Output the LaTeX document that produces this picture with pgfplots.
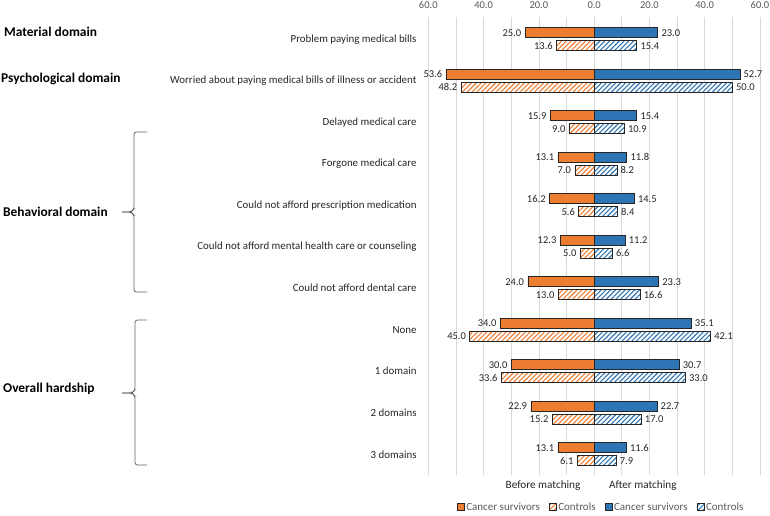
\documentclass[border=0pt]{standalone}
\usepackage{pgfplots}
\pgfplotsset{compat=1.18}
\usepackage{fontspec}
\setmainfont{Carlito}
\usetikzlibrary{patterns.meta}
\definecolor{cOr}{HTML}{ED7D31}
\definecolor{cBl}{HTML}{2E75B6}
\definecolor{cGrid}{HTML}{D9D9D9}
\definecolor{cTxt}{HTML}{262626}
\definecolor{cLeg}{HTML}{595959}
\begin{document}
\begin{tikzpicture}
\path[use as bounding box] (0,0) rectangle (770bp,-516bp);
\begin{axis}[
  at={(428.3bp,-17bp)}, anchor=north west,
  scale only axis, width=331.7bp, height=458bp,
  xmin=-60, xmax=60, ymin=-0.535, ymax=10.5,
  y dir=reverse, clip=false,
  axis line style={draw=none},
  xtick={-60,-40,...,60},
  xticklabels={60.0,40.0,20.0,0.0,20.0,40.0,60.0},
  minor xtick={-50,-30,-10,10,30,50},
  xmajorgrids, xminorgrids,
  major grid style={draw=cGrid, line width=0.6bp},
  minor grid style={draw=cGrid, line width=0.6bp},
  xticklabel pos=upper,
  tick style={draw=none},
  xticklabel style={font=\fontsize{10.5bp}{12bp}\selectfont, text=cLeg, yshift=4.5bp},
  /pgf/number format/assume math mode=true,
  ytick={0,...,10},
  yticklabels={Problem paying medical bills,
    Worried about paying medical bills of illness or accident,
    Delayed medical care, Forgone medical care,
    Could not afford prescription medication,
    Could not afford mental health care or counseling,
    Could not afford dental care, None, 1 domain, 2 domains, 3 domains},
  yticklabel style={font=\fontsize{10.9bp}{12bp}\selectfont, text=cTxt, xshift=-4bp},
  xbar, bar width=10bp,
  point meta={abs(x)},
  nodes near coords={\pgfmathprintnumber[fixed,fixed zerofill,precision=1]{\pgfplotspointmeta}},
  every node near coord/.append style={font=\fontsize{10.5bp}{12bp}\selectfont, text=cTxt, inner sep=3.5bp},
  legend columns=4,
  legend style={at={(0.521,-0.07)}, anchor=center, draw=none, fill=none,
    font=\fontsize{11bp}{12bp}\selectfont, text=cLeg,
    /tikz/every even column/.append style={column sep=7bp}},
  legend image code/.code={\draw[#1, line width=0.5bp] (0bp,-3.5bp) rectangle (7bp,3.5bp);},
]
% Before matching - cancer survivors
\addplot[fill=cOr, draw=black!85, line width=0.6bp, bar shift=6.5bp,
  every node near coord/.append style={anchor=east}] coordinates {
 (-25.0,0) (-53.6,1) (-15.9,2) (-13.1,3) (-16.2,4) (-12.3,5) (-24.0,6) (-34.0,7) (-30.0,8) (-22.9,9) (-13.1,10)};
% Before matching - controls
\addplot[fill=white, draw=black!85, line width=0.6bp, bar shift=-6.5bp,
  postaction={pattern={Lines[angle=45,distance=3.4bp,line width=1.1bp]}, pattern color=cOr},
  every node near coord/.append style={anchor=east}] coordinates {
 (-13.6,0) (-48.2,1) (-9.0,2) (-7.0,3) (-5.6,4) (-5.0,5) (-13.0,6) (-45.0,7) (-33.6,8) (-15.2,9) (-6.1,10)};
% After matching - cancer survivors
\addplot[fill=cBl, draw=black!85, line width=0.6bp, bar shift=6.5bp,
  every node near coord/.append style={anchor=west}] coordinates {
 (23.0,0) (52.7,1) (15.4,2) (11.8,3) (14.5,4) (11.2,5) (23.3,6) (35.1,7) (30.7,8) (22.7,9) (11.6,10)};
% After matching - controls
\addplot[fill=white, draw=black!85, line width=0.6bp, bar shift=-6.5bp,
  postaction={pattern={Lines[angle=45,distance=3.4bp,line width=1.1bp]}, pattern color=cBl},
  every node near coord/.append style={anchor=west}] coordinates {
 (15.4,0) (50.0,1) (10.9,2) (8.2,3) (8.4,4) (6.6,5) (16.6,6) (42.1,7) (33.0,8) (17.0,9) (7.9,10)};
\legend{Cancer survivors, Controls, Cancer survivors, Controls}
\node[font=\fontsize{11.2bp}{13bp}\selectfont, text=cTxt] at (axis cs:-18.5,10.76) {Before matching};
\node[font=\fontsize{11.2bp}{13bp}\selectfont, text=cTxt] at (axis cs:17.6,10.76) {After matching};
\end{axis}
% domain labels
\begin{scope}[font=\bfseries\fontsize{13.4bp}{15bp}\selectfont, text=black]
\node[anchor=west, inner sep=0] at (4bp,-32bp) {Material domain};
\node[anchor=west, inner sep=0] at (1bp,-79bp) {Psychological domain};
\node[anchor=west, inner sep=0] at (3bp,-212bp) {Behavioral domain};
\node[anchor=west, inner sep=0] at (3bp,-389bp) {Overall hardship};
\end{scope}
% braces
\draw[black!60, line width=0.8bp, rounded corners=2.5bp]
  (147bp,-132bp) -- (134bp,-132bp) -- (134bp,-209bp) -- (131bp,-212bp) -- (122bp,-212bp);
\draw[black!60, line width=0.8bp, rounded corners=2.5bp]
  (147bp,-292bp) -- (134bp,-292bp) -- (134bp,-215bp) -- (131bp,-212bp) -- (122bp,-212bp);
\draw[black!60, line width=0.8bp, rounded corners=2.5bp]
  (147bp,-320bp) -- (135bp,-320bp) -- (135bp,-390bp) -- (132bp,-393bp) -- (122bp,-393bp);
\draw[black!60, line width=0.8bp, rounded corners=2.5bp]
  (147bp,-465bp) -- (135bp,-465bp) -- (135bp,-396bp) -- (132bp,-393bp) -- (122bp,-393bp);
\end{tikzpicture}
\end{document}
